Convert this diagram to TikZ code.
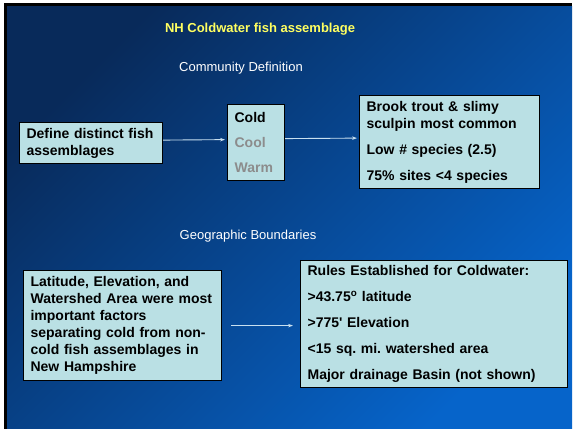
\documentclass[tikz,border=0pt]{standalone}
\usepackage{fontspec}
\setmainfont{Liberation Sans}
\usepackage{xcolor}
\usetikzlibrary{positioning,calc,arrows.meta}
\definecolor{slidedark}{RGB}{8,42,90}
\definecolor{slidelight}{RGB}{6,100,202}
\definecolor{boxfill}{RGB}{186,224,228}
\definecolor{titleyellow}{RGB}{255,255,96}
\definecolor{arrowblue}{RGB}{200,224,240}
\definecolor{dimtext}{RGB}{140,140,140}
\frenchspacing

\begin{document}
\begin{tikzpicture}[x=1pt, y=-1pt,
    box/.style={draw=black, line width=1.2pt, fill=boxfill, inner xsep=7pt, inner ysep=0pt,
      align=left, anchor=north west, font=\fontsize{14}{17}\selectfont\bfseries},
    link/.style={draw=arrowblue, line width=0.9pt, -{Stealth[length=5pt,width=3.5pt]}},
    heading/.style={font=\fontsize{13}{15}\selectfont, text=white}]
  \useasboundingbox (0,0) rectangle (574,429);
  % slide background
  \fill[white] (0,0) rectangle (574,429);
  \fill[black] (4,3) rectangle (572,429);
  \shade[top color=slidedark, bottom color=slidelight, shading angle=45] (7,6) rectangle (572,429);

  \node[font=\fontsize{13}{15}\selectfont\bfseries, text=titleyellow] (title) at (260,29) {NH Coldwater fish assemblage};
  \node[heading] (comm) at (241,68) {Community Definition};
  \node[heading] (geo) at (248,236) {Geographic Boundaries};

  % community definition row
  \node[box, minimum width=143pt, minimum height=41pt, text width=129pt] (define) at (19,122)
    {Define distinct fish\\assemblages};
  \node[box, minimum width=57pt, minimum height=76pt, text width=43pt] (temp) at (227,104)
    {Cold\\[8pt]\textcolor{dimtext}{Cool}\\[8pt]\textcolor{dimtext}{Warm}};
  \node[box, minimum width=180pt, minimum height=93pt, text width=166pt] (result) at (359,95)
    {Brook trout \& slimy\\sculpin most common\\[9pt]Low \# species (2.5)\\[9pt]75\% sites <4 species};
  \draw[link, shorten >=2pt] ([yshift=3pt]define.east) -- ([yshift=3pt]temp.west);
  \draw[link, shorten >=2pt] ([yshift=4pt]temp.east) -- ([yshift=4pt]result.west);

  % geographic boundaries row
  \node[box, minimum width=198pt, minimum height=110pt, text width=184pt] (factors) at (23,270)
    {Latitude, Elevation, and\\Watershed Area were most\\important factors\\separating cold from non-\\cold fish assemblages in\\New Hampshire};
  \node[box, minimum width=267pt, minimum height=127pt, text width=253pt] (rules) at (300,260)
    {Rules Established for Coldwater:\\[9pt]>43.75\textsuperscript{o} latitude\\[9pt]>775\textquotesingle{} Elevation\\[9pt]<15 sq. mi. watershed area\\[9pt]Major drainage Basin (not shown)};
  \draw[link, shorten <=9pt, shorten >=7pt] (factors.east) -- (factors.east -| rules.west);
\end{tikzpicture}
\end{document}
